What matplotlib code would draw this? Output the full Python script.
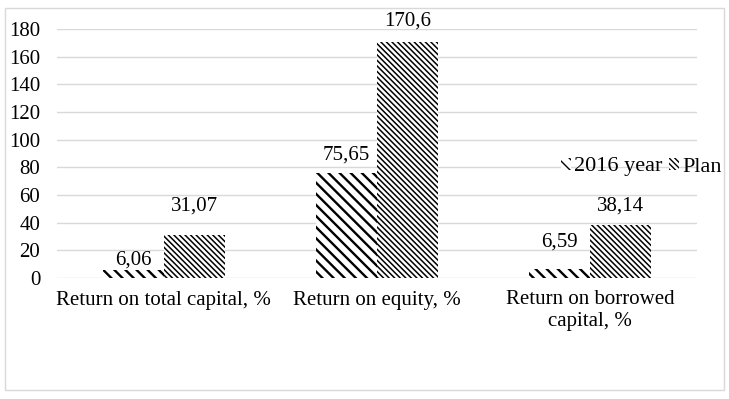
import matplotlib
matplotlib.use("Agg")
import matplotlib.pyplot as plt
from matplotlib.patches import Rectangle, Patch
import numpy as np

categories = ["Return on total capital, %", "Return on equity, %", "Return on borrowed\ncapital, %"]
series_names = ["2016 year", "Plan"]
values_2016 = [6.06, 75.65, 6.59]
values_plan = [31.07, 170.6, 38.14]
label_2016 = ["6,06", "75,65", "6,59"]
label_plan = ["31,07", "170,6", "38,14"]
yticks = [0, 20, 40, 60, 80, 100, 120, 140, 160, 180]

# style
label_offsets_2016 = [0, 9, 17]   # px gap between bar top and label
label_offsets_plan = [19, 11, 10]

plt.rcParams['font.family'] = ['Liberation Serif', 'DejaVu Serif']
FS = 15
H1 = '\\\\\\'
H2 = '\\\\\\\\\\\\'
LW1, LW2 = 1.7, 1.1

fig = plt.figure(figsize=(7.29, 3.99), dpi=100)
fig.patches.append(Rectangle((5/729, 1 - 390/399), 719/729, 382/399, transform=fig.transFigure,
                             fill=False, edgecolor='#d9d9d9', linewidth=1.0))
ax = fig.add_axes([57/729, 1 - 278/399, 640/729, 249/399])

x = np.arange(len(categories))
w = 0.286

def set_hlw(bars, lw):
    for b in bars:
        if hasattr(b, 'set_hatch_linewidth'):
            b.set_hatch_linewidth(lw)

with plt.rc_context({'hatch.linewidth': LW1}):
    b1 = ax.bar(x - w/2, values_2016, w, color='white', edgecolor='black', linewidth=0,
                hatch=H1, zorder=2)
set_hlw(b1, LW1)
with plt.rc_context({'hatch.linewidth': LW2}):
    b2 = ax.bar(x + w/2, values_plan, w, color='white', edgecolor='black', linewidth=0,
                hatch=H2, zorder=2)
set_hlw(b2, LW2)

for xi, v, t, off in zip(x - w/2, values_2016, label_2016, label_offsets_2016):
    ax.annotate(t, (xi, v), xytext=(0, off * 72 / 100), textcoords='offset points',
                ha='center', va='bottom', fontsize=FS)
for xi, v, t, off in zip(x + w/2, values_plan, label_plan, label_offsets_plan):
    ax.annotate(t, (xi, v), xytext=(0, off * 72 / 100), textcoords='offset points',
                ha='center', va='bottom', fontsize=FS, annotation_clip=False)

ax.set_xlim(-0.5, 2.5)
ax.set_ylim(0, 180)
ax.set_yticks(yticks)
ax.set_yticklabels([str(t) for t in yticks], fontsize=FS)
ax.set_xticks(x)
ax.set_xticklabels(categories, fontsize=FS, linespacing=1.15)
ax.tick_params(axis='both', length=0)
ax.tick_params(axis='y', pad=12)
ax.tick_params(axis='x', pad=9)
for s in ax.spines.values():
    s.set_visible(False)
ax.yaxis.grid(True, color='#d9d9d9', linewidth=1.0)
ax.set_axisbelow(True)

with plt.rc_context({'hatch.linewidth': LW1}):
    h1 = Patch(facecolor='white', edgecolor='black', linewidth=0, hatch=H1)
set_hlw([h1], LW1)
with plt.rc_context({'hatch.linewidth': LW2}):
    h2 = Patch(facecolor='white', edgecolor='black', linewidth=0, hatch=H2)
set_hlw([h2], LW2)
fig.legend([h1, h2], series_names, loc='center left', bbox_to_anchor=(561/729, 1 - 167/399),
           ncol=2, frameon=False, fontsize=16, handlelength=0.45, handleheight=0.45,
           handletextpad=0.15, columnspacing=0.3, borderpad=0, borderaxespad=0)

fig.savefig("out.png", dpi=100)
